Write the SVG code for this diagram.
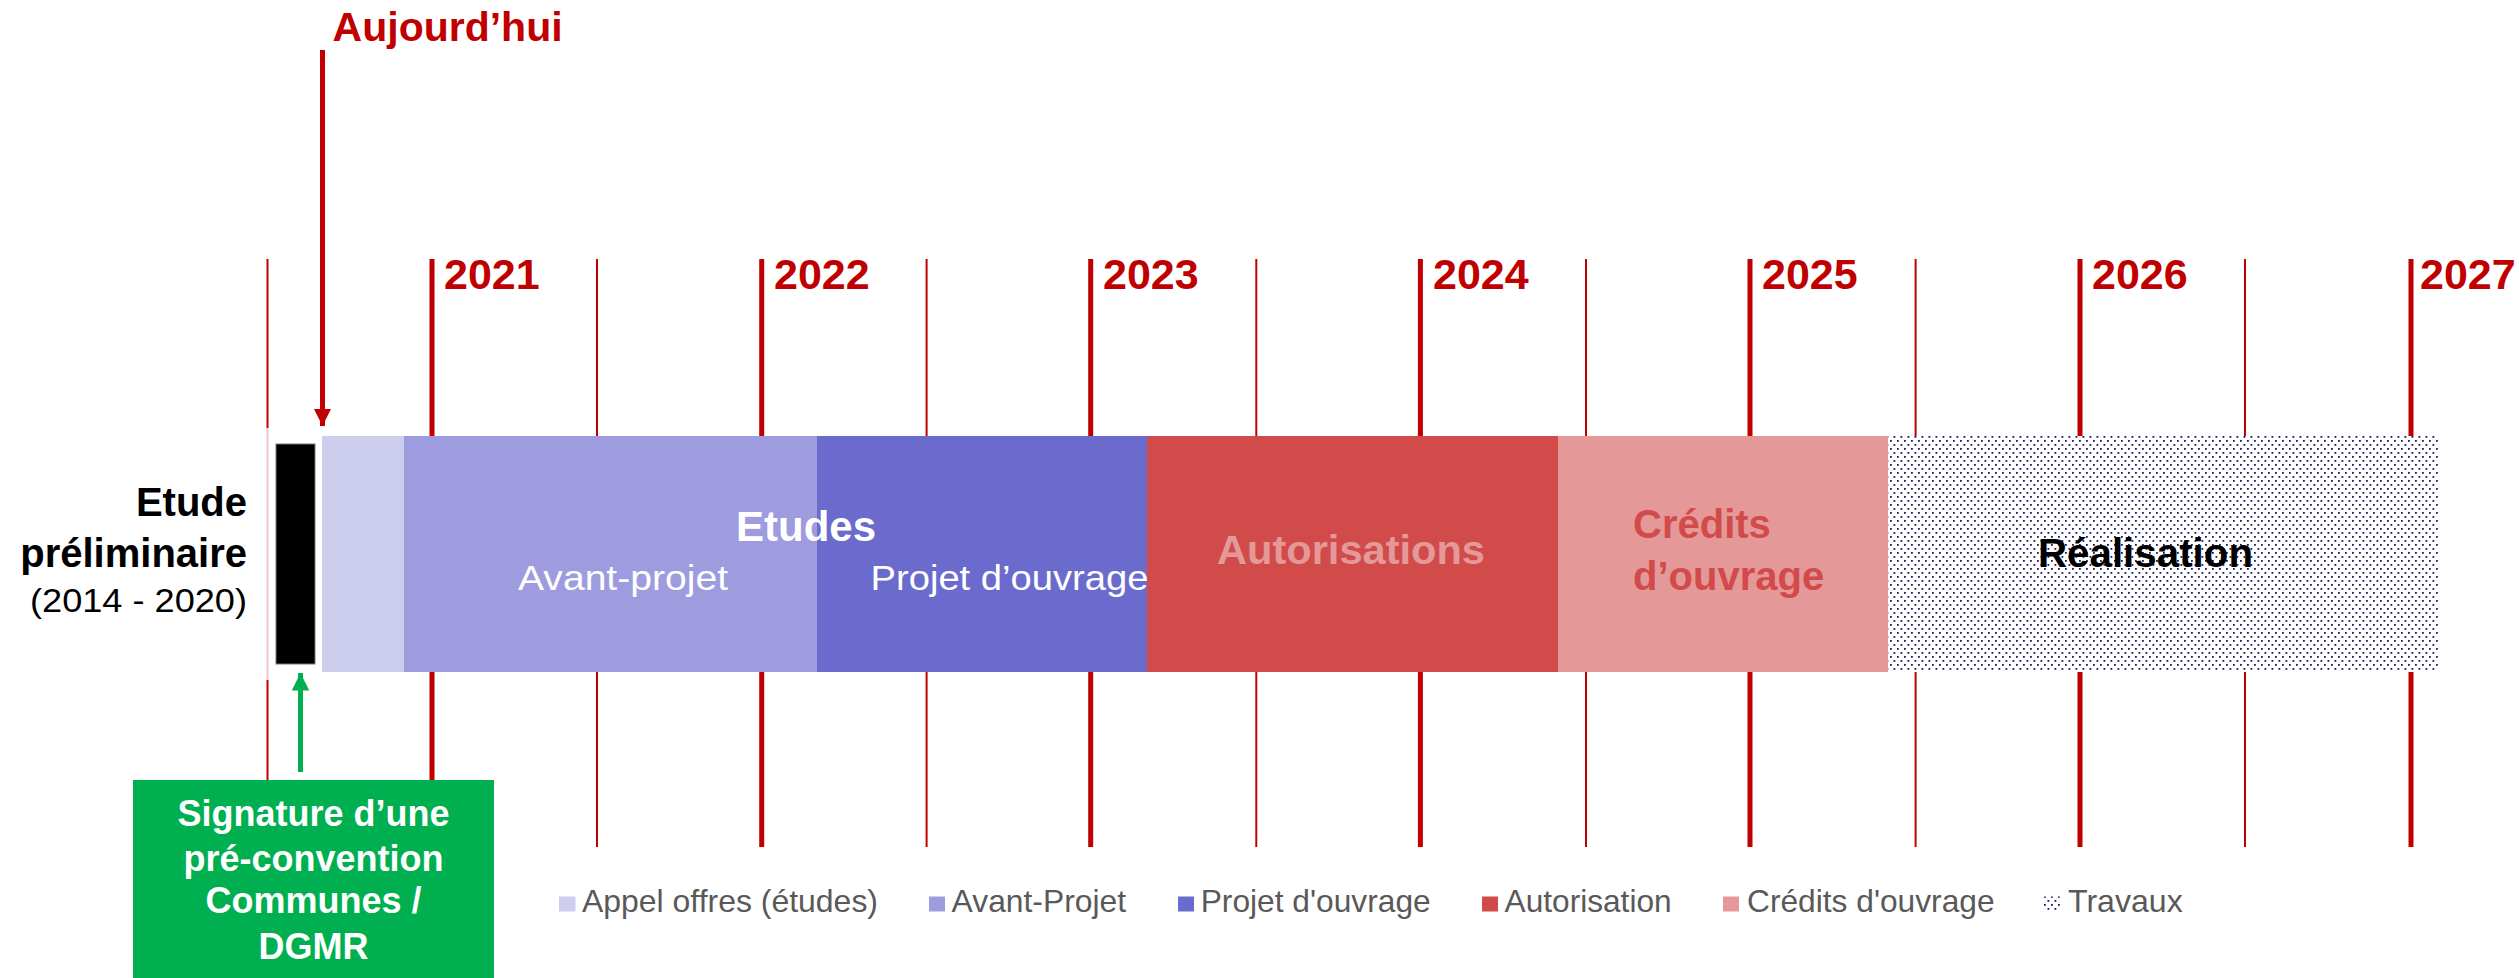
<svg xmlns="http://www.w3.org/2000/svg" width="2519" height="978" viewBox="0 0 2519 978">
<style>
.major{stroke:#C00000;stroke-width:5}
.minor{stroke:#C00000;stroke-width:2}
.year{font-family:"Liberation Sans",Arial,sans-serif;font-weight:bold;font-size:43px;fill:#C00000}
.b{font-family:"Liberation Sans",Arial,sans-serif;font-weight:bold}
.r{font-family:"Liberation Sans",Arial,sans-serif}
.leg{font-family:"Liberation Sans",Arial,sans-serif;font-size:31.5px;fill:#595959}
</style>
<defs>
<pattern id="dots" width="7" height="8" patternUnits="userSpaceOnUse">
<rect width="7" height="8" fill="#ffffff"/>
<rect x="0" y="0" width="1.8" height="1.8" fill="#1a1a5e"/>
<rect x="3.5" y="4" width="1.8" height="1.8" fill="#1a1a5e"/>
</pattern>
<marker id="arrRed" viewBox="0 0 10 10" refX="10" refY="5" markerWidth="3.5" markerHeight="3.6" markerUnits="strokeWidth" orient="auto">
<path d="M0,0 L10,5 L0,10 Z" fill="#C00000"/>
</marker>
<marker id="arrGreen" viewBox="0 0 10 10" refX="10" refY="5" markerWidth="3.5" markerHeight="3.6" markerUnits="strokeWidth" orient="auto">
<path d="M0,0 L10,5 L0,10 Z" fill="#00B050"/>
</marker>
</defs>
<rect width="2519" height="978" fill="#ffffff"/>

<g id="grid">
<line class="minor" x1="267.5" y1="259" x2="267.5" y2="847"/>
<line class="major" x1="432" y1="259" x2="432" y2="847"/>
<line class="minor" x1="597" y1="259" x2="597" y2="847"/>
<line class="major" x1="761.7" y1="259" x2="761.7" y2="847"/>
<line class="minor" x1="926.6" y1="259" x2="926.6" y2="847"/>
<line class="major" x1="1090.7" y1="259" x2="1090.7" y2="847"/>
<line class="minor" x1="1256.3" y1="259" x2="1256.3" y2="847"/>
<line class="major" x1="1420.4" y1="259" x2="1420.4" y2="847"/>
<line class="minor" x1="1586" y1="259" x2="1586" y2="847"/>
<line class="major" x1="1750" y1="259" x2="1750" y2="847"/>
<line class="minor" x1="1915.6" y1="259" x2="1915.6" y2="847"/>
<line class="major" x1="2080" y1="259" x2="2080" y2="847"/>
<line class="minor" x1="2245" y1="259" x2="2245" y2="847"/>
<line class="major" x1="2411" y1="259" x2="2411" y2="847"/>
<text class="year" x="444" y="289">2021</text>
<text class="year" x="774" y="289">2022</text>
<text class="year" x="1103" y="289">2023</text>
<text class="year" x="1433" y="289">2024</text>
<text class="year" x="1762" y="289">2025</text>
<text class="year" x="2092" y="289">2026</text>
<text class="year" x="2420" y="289">2027</text>
</g>

<g id="etude-preliminaire">
<rect x="262" y="428" width="59" height="252" fill="#ffffff" fill-opacity="0.78"/>
<rect x="276" y="444" width="39" height="220" fill="#000000" stroke="#777777" stroke-width="1"/>
<text class="b" x="247" y="516" font-size="40" text-anchor="end" fill="#000">Etude</text>
<text class="b" x="247" y="567" font-size="40" text-anchor="end" fill="#000">préliminaire</text>
<text class="r" x="247" y="612" font-size="32.5" text-anchor="end" fill="#000" textLength="217" lengthAdjust="spacingAndGlyphs">(2014 - 2020)</text>
</g>

<g id="appel-offres">
<rect x="322" y="436" width="82" height="236" fill="#CDCDEE"/>
</g>
<g id="avant-projet">
<rect x="404" y="436" width="413" height="236" fill="#9E9CDE"/>
</g>
<g id="projet-ouvrage">
<rect x="817" y="436" width="330" height="236" fill="#6B6BCE"/>
</g>
<g id="autorisations">
<rect x="1147" y="436" width="411" height="236" fill="#D24B4B"/>
<text class="b" x="1217" y="564" font-size="40" fill="#E59898" textLength="268" lengthAdjust="spacingAndGlyphs">Autorisations</text>
</g>
<g id="credits">
<rect x="1558" y="436" width="330" height="236" fill="#E59898"/>
<text class="b" x="1633" y="538" font-size="40" fill="#D24B4B">Crédits</text>
<text class="b" x="1633" y="590" font-size="40" fill="#D24B4B">d’ouvrage</text>
</g>
<g id="realisation">
<rect x="1888" y="436" width="550" height="236" fill="url(#dots)"/>
<text class="b" x="2038" y="567" font-size="40" fill="#000" textLength="215" lengthAdjust="spacingAndGlyphs">Réalisation</text>
</g>
<g id="etudes-labels">
<text class="b" x="806" y="541" font-size="42" fill="#fff" text-anchor="middle">Etudes</text>
<text class="r" x="518" y="590" font-size="35" fill="#fff" textLength="210" lengthAdjust="spacingAndGlyphs">Avant-projet</text>
<text class="r" x="870.5" y="590" font-size="35" fill="#fff" textLength="278" lengthAdjust="spacingAndGlyphs">Projet d’ouvrage</text>
</g>

<g id="aujourdhui">
<text class="b" x="332.6" y="41" font-size="41" fill="#C00000">Aujourd’hui</text>
</g>

<g id="signature">
<rect x="133" y="780" width="361" height="198" fill="#00B050"/>
<text class="b" x="313.5" y="826" font-size="36" fill="#fff" text-anchor="middle">Signature d’une</text>
<text class="b" x="313.5" y="871" font-size="36" fill="#fff" text-anchor="middle">pré-convention</text>
<text class="b" x="313.5" y="913" font-size="36" fill="#fff" text-anchor="middle">Communes /</text>
<text class="b" x="313.5" y="959" font-size="36" fill="#fff" text-anchor="middle">DGMR</text>
</g>

<g id="connectors">
<line x1="322.5" y1="50" x2="322.5" y2="426" stroke="#C00000" stroke-width="5" marker-end="url(#arrRed)"/>
<line x1="300.5" y1="772" x2="300.5" y2="673" stroke="#00B050" stroke-width="5" marker-end="url(#arrGreen)"/>
</g>

<g id="legend">
<rect x="559" y="896.5" width="16.5" height="15" fill="#CDCDEE"/>
<text class="leg" x="582" y="912" textLength="296" lengthAdjust="spacingAndGlyphs">Appel offres (études)</text>
<rect x="929" y="896.5" width="16" height="15" fill="#9E9CDE"/>
<text class="leg" x="951.6" y="912" textLength="174.4" lengthAdjust="spacingAndGlyphs">Avant-Projet</text>
<rect x="1178" y="896.5" width="16" height="15" fill="#6B6BCE"/>
<text class="leg" x="1200.7" y="912" textLength="230" lengthAdjust="spacingAndGlyphs">Projet d'ouvrage</text>
<rect x="1482" y="896.5" width="16" height="15" fill="#D24B4B"/>
<text class="leg" x="1504.6" y="912" textLength="167" lengthAdjust="spacingAndGlyphs">Autorisation</text>
<rect x="1723" y="896.5" width="16" height="15" fill="#E59898"/>
<text class="leg" x="1747" y="912" textLength="247.6" lengthAdjust="spacingAndGlyphs">Crédits d'ouvrage</text>
<rect x="2044" y="896.5" width="17" height="15" fill="url(#dots)"/>
<text class="leg" x="2068" y="912" textLength="114.7" lengthAdjust="spacingAndGlyphs">Travaux</text>
</g>
</svg>
